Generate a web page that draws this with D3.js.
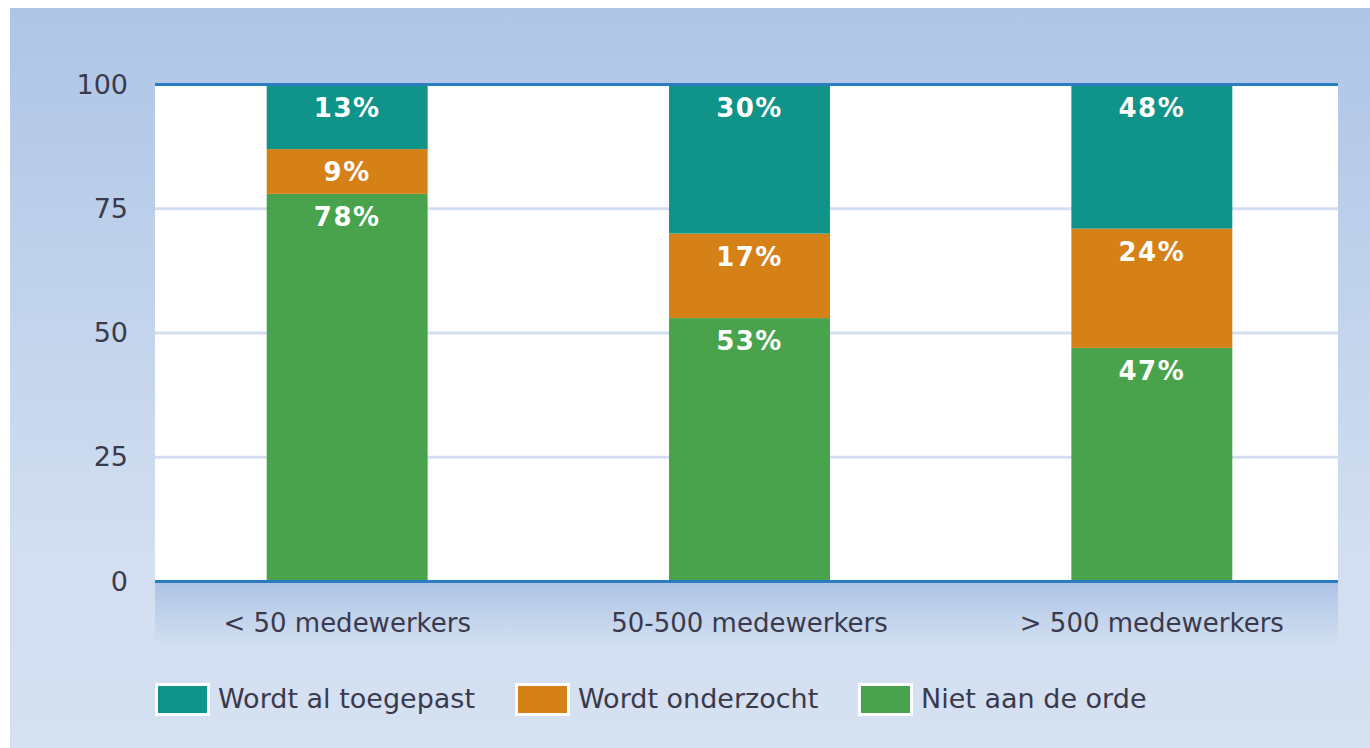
<!DOCTYPE html>
<html><head><meta charset="utf-8">
<script src="https://cdn.jsdelivr.net/npm/d3@7"></script>
<style>html,body{margin:0;padding:0;background:#fff;}svg{display:block;}</style>
</head><body>
<script>
const categories = ["< 50 medewerkers", "50-500 medewerkers", "> 500 medewerkers"];
const seriesNames = ["Wordt al toegepast", "Wordt onderzocht", "Niet aan de orde"];
const toegepast = [13, 30, 48];
const onderzocht = [9, 17, 24];
const nietAanDeOrde = [78, 53, 47];
const yTicks = [0, 25, 50, 75, 100];
const seriesColors = ["#109389", "#d68018", "#48a34c"];

const W = 1370, H = 748;
const plot = {left: 155, right: 1338, top: 84.5, bottom: 581.5};
const FONT = "DejaVu Sans";
const TXT = "#3a3a4c";

const svg = d3.select("body").append("svg").attr("width", W).attr("height", H);
const defs = svg.append("defs");
const bg = defs.append("linearGradient").attr("id","bg").attr("x1",0).attr("y1",0).attr("x2",0).attr("y2",1);
bg.append("stop").attr("offset","0%").attr("stop-color","#aec5e6");
bg.append("stop").attr("offset","75%").attr("stop-color","#d3dff1");
bg.append("stop").attr("offset","100%").attr("stop-color","#d5e0f1");
const band = defs.append("linearGradient").attr("id","band").attr("x1",0).attr("y1",0).attr("x2",0).attr("y2",1);
band.append("stop").attr("offset","0%").attr("stop-color","#adc3e6");
band.append("stop").attr("offset","100%").attr("stop-color","#d4e0f1");
defs.append("clipPath").attr("id","plotclip").append("rect")
  .attr("x",plot.left).attr("y",plot.top).attr("width",plot.right-plot.left).attr("height",plot.bottom-plot.top);

svg.append("rect").attr("x",10).attr("y",8).attr("width",W-10).attr("height",H-8).attr("fill","url(#bg)");
svg.append("rect").attr("x",plot.left).attr("y",plot.bottom).attr("width",plot.right-plot.left).attr("height",66).attr("fill","url(#band)");
svg.append("rect").attr("x",plot.left).attr("y",plot.top).attr("width",plot.right-plot.left).attr("height",plot.bottom-plot.top).attr("fill","#fff");

const y = d3.scaleLinear().domain([0,100]).range([plot.bottom, plot.top]);
const x = d3.scaleBand().domain(categories).range([146, 1353]).paddingInner(0.6).paddingOuter(0.3);

// grid
svg.append("g").selectAll("line").data(yTicks.filter(t => t>0 && t<100)).join("line")
  .attr("x1",plot.left).attr("x2",plot.right).attr("y1",d=>y(d)).attr("y2",d=>y(d))
  .attr("stroke","#d3dff1").attr("stroke-width",3);

// stacked data: bottom -> top
const rows = categories.map((c,i)=>({cat:c, "Niet aan de orde":nietAanDeOrde[i], "Wordt onderzocht":onderzocht[i], "Wordt al toegepast":toegepast[i]}));
const keys = ["Niet aan de orde","Wordt onderzocht","Wordt al toegepast"];
const color = d3.scaleOrdinal().domain(seriesNames).range(seriesColors);
const stacked = d3.stack().keys(keys)(rows);

const barsG = svg.append("g").attr("clip-path","url(#plotclip)");
const layers = barsG.selectAll("g").data(stacked).join("g").attr("fill", d=>color(d.key));
layers.selectAll("rect").data(d=>d).join("rect")
  .attr("x", d=>x(d.data.cat)).attr("width", x.bandwidth())
  .attr("y", d=>y(d[1])).attr("height", d=>y(d[0])-y(d[1]));

const labelsG = svg.append("g");
stacked.forEach(layer => {
  labelsG.selectAll(null).data(layer).join("text")
    .attr("x", d=>x(d.data.cat)+x.bandwidth()/2)
    .attr("y", d=>Math.max(y(d[1]), plot.top)+23)
    .attr("text-anchor","middle").attr("dominant-baseline","central")
    .attr("fill","#fff").attr("font-family",FONT).attr("font-weight","bold")
    .attr("font-size",26).attr("letter-spacing",1.5)
    .text(d=>d.data[layer.key]+"%");
});

// frame lines
svg.append("line").attr("x1",plot.left).attr("x2",plot.right).attr("y1",plot.top).attr("y2",plot.top).attr("stroke","#2a7dc1").attr("stroke-width",3);
svg.append("line").attr("x1",plot.left).attr("x2",plot.right).attr("y1",plot.bottom).attr("y2",plot.bottom).attr("stroke","#2a7dc1").attr("stroke-width",3);

// y axis
const yAxis = d3.axisLeft(y).tickValues(yTicks).tickSize(0).tickPadding(0);
const gy = svg.append("g").attr("transform","translate(128,0)").call(yAxis);
gy.select(".domain").remove();
gy.selectAll("text").attr("font-family",FONT).attr("font-size",27).attr("fill",TXT);

// x axis
const xAxis = d3.axisBottom(x).tickSize(0).tickPadding(0);
const gx = svg.append("g").attr("transform","translate(0,623)").call(xAxis);
gx.select(".domain").remove();
gx.selectAll("text").attr("font-family",FONT).attr("font-size",26).attr("fill",TXT).attr("dy","0.35em");

// legend
const legendX = [155, 515, 858];
const lg = svg.append("g").selectAll("g").data(seriesNames).join("g")
  .attr("transform",(d,i)=>`translate(${legendX[i]},683)`);
lg.append("rect").attr("width",55).attr("height",33).attr("fill","#fff");
lg.append("rect").attr("x",3).attr("y",3).attr("width",49).attr("height",27).attr("fill",d=>color(d));
lg.append("text").attr("x",63).attr("y",15).attr("dominant-baseline","central")
  .attr("font-family",FONT).attr("font-size",27).attr("fill",TXT).text(d=>d);
</script>
</body></html>
